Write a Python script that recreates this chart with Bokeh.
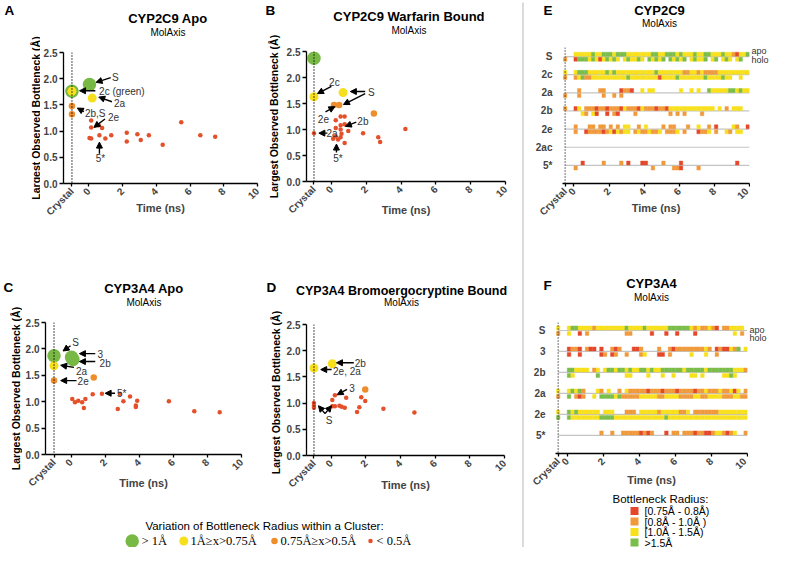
import math
from bokeh.plotting import figure
from bokeh.models import Range1d, FixedTicker, Label, Arrow, NormalHead, Span, NumeralTickFormatter
from bokeh.layouts import row, column
from bokeh.embed import file_html
from bokeh.resources import INLINE

FONT = "Liberation Sans"
SERIF = "Liberation Serif"
C_GREEN = "#78b845"
C_YELLOW = "#f6df1c"
C_ORANGE = "#ee8d2c"
C_RED = "#e4502a"
BIN_COLORS = {"G": "#7bbd4a", "Y": "#f8e01c", "O": "#f19a3c", "R": "#e5472b"}

CRYSTAL = -1.0
CRYSTAL_EF = -0.5

# ---------------- scatter data (time ns, largest bottleneck A) ----------------
A_green_x = [0.04, -1.0]
A_green_y = [1.89, 1.76]
A_yellow_x = [-1.0, 0.2]
A_yellow_y = [1.76, 1.63]
A_orange_x = [-1.0, -1.0]
A_orange_y = [1.48, 1.32]
A_red_x = [0.14, 0.14, 0.59, 0.79, 0.04, 0.14, 0.63, 0.98, 1.33, 2.25, 2.25, 2.88, 3.08, 3.56, 4.38, 5.48, 6.61, 7.49]
A_red_y = [1.20, 1.07, 1.11, 1.06, 0.87, 0.86, 0.92, 0.86, 0.92, 0.97, 0.80, 0.94, 0.83, 0.92, 0.74, 1.17, 0.92, 0.89]

B_green_x = [-1.0]
B_green_y = [2.37]
B_yellow_x = [-1.0, 0.67]
B_yellow_y = [1.63, 1.71]
B_orange_x = [0.15, 0.44, 2.44]
B_orange_y = [1.47, 1.47, 1.31]
B_red_x = [-1.0, 0.25, 0.53, 0.76, 0.25, 0.53, 0.53, 0.76, 0.58, 0.24, 0.10, 0.38, 0.53, 0.97, 0.76, 1.82, 2.69, 2.80, 4.25]
B_red_y = [0.93, 1.18, 1.25, 1.25, 1.03, 1.08, 1.00, 1.10, 0.92, 0.87, 0.82, 0.81, 0.85, 0.97, 0.74, 0.93, 0.85, 0.76, 1.01]

C_green_x = [-1.0, 0.03, 0.11]
C_green_y = [1.87, 1.84, 1.80]
C_yellow_x = [-1.0]
C_yellow_y = [1.68]
C_orange_x = [-1.0, 1.33]
C_orange_y = [1.40, 1.46]
C_red_x = [0.07, 0.23, 0.42, 0.65, 0.84, 0.75, 1.27, 1.81, 2.74, 2.87, 3.07, 3.46, 3.80, 3.80, 3.88, 5.74, 7.23, 8.72]
C_red_y = [1.05, 0.99, 1.02, 0.99, 1.05, 0.88, 1.14, 1.15, 0.86, 1.15, 1.01, 1.10, 0.93, 0.90, 1.02, 1.01, 0.82, 0.80]

D_green_x = []
D_green_y = []
D_yellow_x = [-1.0, 0.06]
D_yellow_y = [1.67, 1.75]
D_orange_x = [1.96]
D_orange_y = [1.26]
D_red_x = [-1.0, -1.0, -1.0, 0.06, 0.21, 0.06, 0.21, 0.47, 0.60, 0.86, 0.78, 1.49, 1.62, 1.73, 1.96, 3.01, 4.80]
D_red_y = [1.00, 0.95, 0.91, 1.06, 1.15, 0.94, 0.94, 0.95, 0.93, 1.10, 0.91, 0.83, 0.92, 1.11, 1.04, 0.89, 0.82]

X_TICKS = [-1, 0, 2, 4, 6, 8, 10]
Y_TICKS = [0, 0.5, 1.0, 1.5, 2.0, 2.5]

# ---------------- timeline data (crystal + 50 bins of 0.2 ns) ----------------
E_ROWS = ["S", "2c", "2a", "2b", "2e", "2ac", "5*"]
E_APO = [
    ". YYYYYGYYGG GYGGGYYYYY YYGGYYGGGY GYYYGYYGGY YYGYYORYYG",
    "Y YGGGYYYYYG YGYYYYYYYY YYYGYYYYYY YOOYYOYOOO OYYYYYYYYY",
    ". .O.....OO. ...ROOR..Y .YY....... Y..Y.Y..GY YYYYGGYGYY",
    "O RY.OOOROOR OOORYOOORY OOOROORYYY YYYYYYYYYY .Y.O.YYY..",
    ". O...OO.OO. O.O.YY..O. Y....O.OO. ..O..Y..O. R....YO..R",
    ". .......... .......... .......... .......... ..........",
    ". ..R.....O. ...O.R...R R....O.... R......... ......R...",
]
E_HOLO = [
    "O RGGGYGYRYG YGY.YGYYGY .GYGYG.GYG YG.YGYYG.Y G.YGY.YG..",
    "O OYGOOYYYYY YYYYYGYYYY YYYYRYYYYG YYYYYYYGYY YYGYY..Y..",
    "O .O......O. .O.O...... .......... .......... ..........",
    ". ..YO.YR..R .OR....O.. .......O.O .O....O... ..........",
    ". O..ROOOORO YRYOYY.OYO OYOOY.OOOY .O...ROOY. O..YO.YY..",
    ". .......... .......... .......... .......... ..........",
    ". O......... .......... ..O.....OO R....O.... ..........",
]
F_ROWS = ["S", "3", "2b", "2a", "2e", "5*"]
F_APO = [
    "Y YGGYYYYOYY YYYYYYGYYY YGYYYYYYGG GGGGYOYOOY OR.OOYYYY.",
    ". ROOR.ORR.R ..ORO...RR O....O..OR OOOOOOOOYO .RORRYOG.Y",
    ". GGYYYY.OY. YGGYGGYGYY GGYGYYGGGG GGYGGGGGYG GGGGGGYYYO",
    "Y YGYGO...YO .Y..O.YOOO OOROOOROOO ROOOOROOYO OOYOOYRY.O",
    "Y GYGYYYYYY. YYY...OOO. YYYYYOYYYY YOOY.OOOOO OOYYYYYYYY",
    ". .........O ..O..OOOOO RORO...R.O O.OOOROORR OYYOROY..O",
]
F_HOLO = [
    "O Y..R.O.... ......OO.. ...R...R.. R....R.... ......Y.O.",
    ". R..R.....R O.RO..O... OY...RR.O. ....Y...Y. .O........",
    ". GY......G. ......YY.. ..Y...Y..Y ....YY.Y.. ...YYGY...",
    "O G.ORO..Y.G GGGYGOOOOO YYYYYOOYYY YOOOOYYOOY YYYOOOYYOO",
    "G GYYYYYYYYG GGGYYYYYYY YYYYYYYGYY YYYYYYYYYY YYYYYYYYYY",
    ". .......... .......... .......... .......... ..........",
]
EF_X_TICKS = [-0.5, 0, 2, 4, 6, 8, 10]
BIN_WIDTH = 0.2

LEGEND_CIRCLE_LABELS = ["> 1Å", "1Å≥x>0.75Å", "0.75Å≥x>0.5Å", "< 0.5Å"]
LEGEND_SQUARE_LABELS = ["[0.75Å - 0.8Å)", "[0.8Å - 1.0Å )", "[1.0Å - 1.5Å)", ">1.5Å"]
YLABEL = "Largest Observed Bottleneck (Å)"
TITLE_SIZE = "13px"
SUB_SIZE = "10px"
LETTER_SIZE = "13.5px"


def new_fig(w, h, xr, yr, lb=0, rb=0, tb=0, bb=0):
    p = figure(width=w, height=h, x_range=Range1d(*xr), y_range=Range1d(*yr),
               output_backend="svg", toolbar_location=None, title=None,
               min_border_left=lb, min_border_right=rb, min_border_top=tb, min_border_bottom=bb)
    p.outline_line_color = None
    p.grid.visible = False
    p.background_fill_color = "white"
    p.border_fill_color = "white"
    return p


def strip(x0, x1, y0, y1):
    # blank strip whose data space is the page position, used for text outside plot frames
    p = new_fig(x1 - x0, y1 - y0, (x0, x1), (y1, y0))
    p.axis.visible = False
    return p


def txt(p, x, y, text, size="10px", bold=False, align="left", color="black", font=FONT, angle=0.0):
    p.add_layout(Label(x=x, y=y, text=text, text_font=font, text_font_size=size,
                       text_font_style="bold" if bold else "normal", text_align=align,
                       text_baseline="middle", text_color=color, angle=angle))


def style_axes(p):
    for ax in p.axis:
        ax.axis_line_color = "black"
        ax.axis_line_width = 1.3
        ax.major_tick_line_color = "black"
        ax.major_tick_line_width = 1.3
        ax.major_tick_in = 0
        ax.major_tick_out = 4
        ax.minor_tick_line_color = None
        ax.major_label_text_font = FONT
        ax.major_label_text_font_style = "bold"
        ax.major_label_text_font_size = "10px"
        ax.major_label_standoff = 2
    p.xaxis.major_tick_out = 3
    p.xaxis.major_label_standoff = 3
    p.xaxis.major_label_orientation = math.pi / 4
    p.xaxis.axis_label = "Time (ns)"
    p.xaxis.axis_label_text_font = FONT
    p.xaxis.axis_label_text_font_style = "bold"
    p.xaxis.axis_label_text_font_size = "11px"


def scatter_panel(geom, xr, pts, texts, arrows, time_standoff):
    w, h, lb, rb, tb, bb = geom
    p = new_fig(w, h, xr, (0, 2.5), lb, rb, tb, bb)
    style_axes(p)
    p.xaxis.axis_label_standoff = time_standoff
    p.xaxis.ticker = FixedTicker(ticks=X_TICKS)
    p.xaxis.major_label_overrides = {-1: "Crystal"}
    p.yaxis.ticker = FixedTicker(ticks=Y_TICKS)
    p.yaxis.formatter = NumeralTickFormatter(format="0.0")
    p.add_layout(Span(location=CRYSTAL, dimension="height", line_color="black",
                      line_dash="1 2", line_width=1.4))
    gx, gy, yx, yy, ox, oy, rx, ry = pts
    for xs, ys, col, sz in [(gx, gy, C_GREEN, 13.5), (yx, yy, C_YELLOW, 9),
                            (ox, oy, C_ORANGE, 6.5), (rx, ry, C_RED, 4.5)]:
        if xs:
            p.scatter(xs, ys, size=sz, fill_color=col, line_color=None)
    for t, x, y, al in texts:
        txt(p, x, y, t, size="10px", align=al, color="#333333")
    for x0, y0, x1, y1 in arrows:
        p.add_layout(Arrow(end=NormalHead(size=6, fill_color="black", line_color="black", line_width=1),
                           x_start=x0, y_start=y0, x_end=x1, y_end=y1,
                           line_width=1.4, line_color="black"))
    return p


def title_strip(x0, x1, y0, y1, cx, ty, my, title, size=TITLE_SIZE, letter=None, lx=0, ly=0):
    s = strip(x0, x1, y0, y1)
    txt(s, cx, ty, title, size=size, bold=True, align="center")
    txt(s, cx, my, "MolAxis", size=SUB_SIZE, align="center")
    if letter:
        txt(s, lx, ly, letter, size=LETTER_SIZE, bold=True)
    return s


def ylabel_strip(x0, x1, y0, y1, letter, lx, ly, yx, yc):
    s = strip(x0, x1, y0, y1)
    if letter:
        txt(s, lx, ly, letter, size=LETTER_SIZE, bold=True)
    txt(s, yx, yc, YLABEL, size="10.5px", bold=True, align="center", angle=math.pi / 2)
    return s


def timeline_panel(geom, xr, yr, rows, apo, holo, apo_off, holo_off, hh, time_standoff):
    w, h, lb, rb, tb, bb = geom
    p = new_fig(w, h, xr, yr, lb, rb, tb, bb)
    style_axes(p)
    p.xaxis.axis_label_standoff = time_standoff
    p.xaxis.ticker = FixedTicker(ticks=EF_X_TICKS)
    p.xaxis.major_label_overrides = {-0.5: "Crystal"}
    n = len(rows)
    levels = [n - 1 - i for i in range(n)]
    p.yaxis.ticker = FixedTicker(ticks=levels)
    p.yaxis.major_label_overrides = {lv: r for lv, r in zip(levels, rows)}
    p.yaxis.axis_line_color = None
    p.yaxis.major_tick_line_color = None
    p.yaxis.major_label_standoff = 6
    p.segment(x0=[CRYSTAL_EF] * n, x1=[10] * n, y0=levels, y1=levels,
              line_color="#c4c4c4", line_width=1.2)
    p.add_layout(Span(location=CRYSTAL_EF, dimension="height", line_color="#333333",
                      line_dash="1 2", line_width=1.4))
    xs, ys, cs = [], [], []
    for lv, a, hl in zip(levels, apo, holo):
        for s, off in ((a, apo_off), (hl, holo_off)):
            s = s.replace(" ", "")
            if s[0] != ".":
                xs.append(CRYSTAL_EF)
                ys.append(lv + off)
                cs.append(BIN_COLORS[s[0]])
            for i, c in enumerate(s[1:]):
                if c != ".":
                    xs.append(BIN_WIDTH * i + BIN_WIDTH / 2)
                    ys.append(lv + off)
                    cs.append(BIN_COLORS[c])
    p.rect(x=xs, y=ys, width=BIN_WIDTH, height=hh, fill_color=cs, line_color=cs, line_width=0.4)
    return p


def apo_strip(x0, x1, y0, y1, ay, hy):
    s = strip(x0, x1, y0, y1)
    txt(s, x0 + 1, ay, "apo", size="9px", color="#333333")
    txt(s, x0 + 1, hy, "holo", size="9px", color="#333333")
    return s


# ---------------- panel A ----------------
pA = scatter_panel((223, 238, 21, 6, 12, 95), (-1.5, 10),
                   (A_green_x, A_green_y, A_yellow_x, A_yellow_y, A_orange_x, A_orange_y, A_red_x, A_red_y),
                   [("S", 1.37, 2.02, "left"), ("2c (green)", 0.61, 1.76, "left"), ("2a", 1.49, 1.53, "left"),
                    ("2b,S", -0.23, 1.34, "left"), ("2e", 1.14, 1.27, "left"), ("5*", 0.69, 0.47, "center")],
                   [(1.30, 2.02, 0.43, 1.93), (0.39, 1.77, -0.55, 1.77), (1.37, 1.56, 0.59, 1.65),
                    (-0.29, 1.37, -0.68, 1.44), (0.96, 1.23, 0.30, 1.07), (0.63, 0.57, 0.63, 0.79)], -22)
blockA = row(ylabel_strip(0, 40, 0, 278, "A", 4, 10, 35, 117.5),
             column(title_strip(40, 263, 0, 40, 160, 18, 32, "CYP2C9 Apo"), pA))

# ---------------- panel B ----------------
pB = scatter_panel((235, 238, 22, 13, 11, 97), (-1.43, 10),
                   (B_green_x, B_green_y, B_yellow_x, B_yellow_y, B_orange_x, B_orange_y, B_red_x, B_red_y),
                   [("2c", 0.17, 1.90, "center"), ("S", 2.29, 1.71, "center"), ("2e", -0.46, 1.21, "center"),
                    ("2b", 1.81, 1.16, "center"), ("2a", 0.04, 0.92, "center"), ("5*", 0.38, 0.44, "center")],
                   [(0.0, 1.83, -0.8, 1.69), (1.94, 1.73, 1.09, 1.73), (1.94, 1.69, 0.69, 1.48),
                    (-0.34, 1.34, 0.2, 1.44), (1.43, 1.14, 0.8, 1.06), (-0.23, 0.93, -0.72, 0.93),
                    (0.29, 0.56, 0.29, 0.72)], -18)
blockB = row(ylabel_strip(263, 283, 0, 278, "B", 265, 10, 273, 116),
             column(title_strip(283, 518, 0, 40, 404, 16, 30, "CYP2C9 Warfarin Bound"), pB))

# ---------------- panel C ----------------
pC = scatter_panel((241, 193, 21, 22, 10, 51), (-1.5, 10),
                   (C_green_x, C_green_y, C_yellow_x, C_yellow_y, C_orange_x, C_orange_y, C_red_x, C_red_y),
                   [("S", 0.26, 2.13, "center"), ("3", 1.71, 1.91, "center"), ("2b", 2.0, 1.72, "center"),
                    ("2a", 0.61, 1.58, "center"), ("2e", 0.71, 1.40, "center"), ("5*", 2.97, 1.16, "center")],
                   [(-0.03, 2.06, -0.47, 1.96), (1.42, 1.91, 0.49, 1.91), (1.42, 1.76, 0.49, 1.76),
                    (0.17, 1.65, -0.61, 1.69), (0.32, 1.40, -0.61, 1.40), (2.58, 1.16, 2.0, 1.16)], -18)
blockC = row(ylabel_strip(0, 22, 278, 505, "C", 3, 287, 15, 388),
             column(title_strip(22, 263, 278, 312, 143, 288, 302, "CYP3A4 Apo"), pC))

# ---------------- panel D ----------------
pD = scatter_panel((235, 196, 21, 14, 15, 50), (-1.43, 10),
                   (D_green_x, D_green_y, D_yellow_x, D_yellow_y, D_orange_x, D_orange_y, D_red_x, D_red_y),
                   [("2b", 1.67, 1.75, "center"), ("2e, 2a", 0.10, 1.61, "left"), ("3", 1.2, 1.28, "center"),
                    ("S", -0.13, 0.67, "center")],
                   [(1.30, 1.77, 0.30, 1.77), (0.02, 1.64, -0.61, 1.64), (0.91, 1.26, 0.34, 1.16),
                    (-0.36, 0.80, -0.74, 0.95), (-0.36, 0.80, 0.02, 0.95)], -17)
blockD = column(title_strip(263, 518, 278, 309, 401, 290, 302, "CYP3A4 Bromoergocryptine Bound",
                            size="12.5px", letter="D", lx=266, ly=287),
                row(ylabel_strip(263, 283, 309, 505, None, 0, 0, 275, 392), column(pD)))

# ---------------- panel E ----------------
pE = timeline_panel((222, 177, 34, 1, 2, 39), (-0.65, 10), (-1, 6.5), E_ROWS, E_APO, E_HOLO,
                    0.13, -0.15, 0.22, -22)
sE = strip(528, 770, 0, 45)
txt(sE, 543, 10, "E", size=LETTER_SIZE, bold=True)
txt(sE, 659, 10, "CYP2C9", size=TITLE_SIZE, bold=True, align="center")
txt(sE, 659, 23, "MolAxis", size=SUB_SIZE, align="center")
blockE = column(sE, row(pE, apo_strip(750, 770, 45, 222, 50, 61)))

# ---------------- panel F ----------------
pF = timeline_panel((220, 174, 27, 1, 4, 39), (-0.65, 10), (-0.86, 5.38), F_ROWS, F_APO, F_HOLO,
                    0.12, -0.14, 0.19, -20)
sF = strip(528, 770, 222, 318)
txt(sF, 543, 285, "F", size=LETTER_SIZE, bold=True)
txt(sF, 651, 283, "CYP3A4", size=TITLE_SIZE, bold=True, align="center")
txt(sF, 651, 297, "MolAxis", size=SUB_SIZE, align="center")
blockF = column(sF, row(pF, apo_strip(748, 770, 318, 492, 328, 339)))

# ---------------- legends ----------------
pL = strip(0, 518, 505, 547)
txt(pL, 264, 525, "Variation of Bottleneck Radius within a Cluster:", size="11.5px", align="center")
pL.scatter([131.7, 183.3, 274, 370], [540.5] * 4, size=[13.5, 9, 6.5, 4.5],
           fill_color=[C_GREEN, C_YELLOW, C_ORANGE, C_RED], line_color=None)
for x, lab in zip([141, 190, 280, 376], LEGEND_CIRCLE_LABELS):
    txt(pL, x, 540.5, lab, size="12.5px", font=SERIF)

pR = strip(528, 770, 492, 547)
txt(pR, 660, 498, "Bottleneck Radius:", size="11.5px", align="center")
sq_y = [510.5, 521, 531.5, 542]
pR.scatter([634] * 4, sq_y, marker="square", size=8,
           fill_color=[BIN_COLORS["R"], BIN_COLORS["O"], BIN_COLORS["Y"], BIN_COLORS["G"]], line_color=None)
for y, lab in zip(sq_y, LEGEND_SQUARE_LABELS):
    txt(pR, 644, y, lab, size="10.5px")

pS = strip(518, 528, 0, 547)
pS.segment(x0=[522.5], y0=[2], x1=[522.5], y1=[547], line_color="#cfcfcf", line_width=1.5)

left = column(row(blockA, blockB), row(blockC, blockD), pL)
right = column(blockE, blockF, pR)
layout = row(left, pS, right)

open("out.html", "w").write(file_html(layout, INLINE))
